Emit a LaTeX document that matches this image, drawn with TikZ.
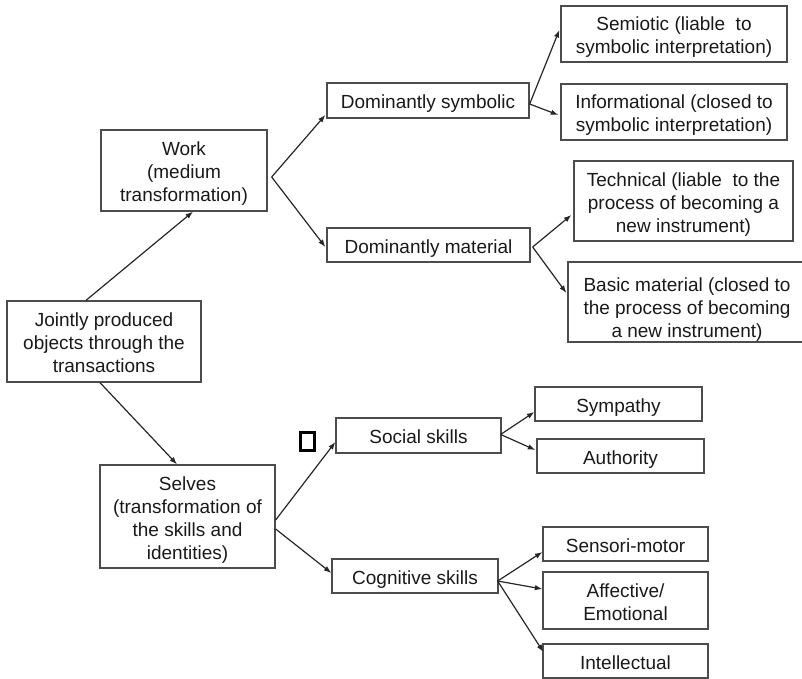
\documentclass[tikz,border=0pt]{standalone}
\usepackage{fontspec}
\setmainfont{Liberation Sans}
\usetikzlibrary{arrows.meta,calc}
\newcommand\boxtxt[2][-3.5pt]{\raisebox{#1}[\height][\depth]{\begin{tabular}{@{}c@{}}#2\end{tabular}}}
\begin{document}
\begin{tikzpicture}[x=1pt,y=-1pt,
  box/.style={draw=black!70,line width=1.3pt,inner sep=0pt,
    font=\fontsize{19}{23}\selectfont,text=black!90},
  conn/.style={draw=black!85,line width=1.2pt,-{Latex[length=7.5pt,width=5.5pt]}}]
\useasboundingbox (0,0) rectangle (802,679);
% nodes
\node[box,minimum width=166pt,minimum height=81pt] (work) at (184,170.5) {\boxtxt{Work\\(medium\\transformation)}};
\node[box,minimum width=194pt,minimum height=81pt] (joint) at (104,341.5) {\boxtxt{Jointly produced\\objects through the\\transactions}};
\node[box,minimum width=202pt,minimum height=35pt] (dsym) at (428,100.5) {\boxtxt{Dominantly symbolic}};
\node[box,minimum width=203pt,minimum height=34pt] (dmat) at (428.5,245) {\boxtxt{Dominantly material}};
\node[box,minimum width=226pt,minimum height=56pt] (semi) at (674,34) {\boxtxt{Semiotic (liable\ \ to\\symbolic interpretation)}};
\node[box,minimum width=226pt,minimum height=56pt] (info) at (674,112) {\boxtxt{Informational (closed to\\symbolic interpretation)}};
\node[box,minimum width=219pt,minimum height=80pt] (tech) at (683.5,201) {\boxtxt{Technical (liable\ \ to the\\process of becoming a\\new instrument)}};
\node[box,minimum width=238pt,minimum height=80pt] (basic) at (687,302) {\boxtxt[-8pt]{Basic material (closed to\\the process of becoming\\a new instrument)}};
\node[box,minimum width=175pt,minimum height=103pt] (selves) at (187.5,516.5) {\boxtxt{Selves\\(transformation of\\the skills and\\identities)}};
\node[box,minimum width=165pt,minimum height=35pt] (social) at (418.5,435.5) {\boxtxt{Social skills}};
\node[box,minimum width=166pt,minimum height=34pt] (cog) at (415,576) {\boxtxt{Cognitive skills}};
\node[box,minimum width=167pt,minimum height=34pt] (symp) at (618.5,404) {\boxtxt{Sympathy}};
\node[box,minimum width=167pt,minimum height=34pt] (auth) at (620.5,456) {\boxtxt{Authority}};
\node[box,minimum width=165pt,minimum height=34pt] (sens) at (625.5,544) {\boxtxt{Sensori-motor}};
\node[box,minimum width=165pt,minimum height=57pt] (aff) at (625.5,600.5) {\boxtxt{Affective/\\Emotional}};
\node[box,minimum width=165pt,minimum height=34pt] (intel) at (625.5,661) {\boxtxt{Intellectual}};
\node[draw=black,line width=2.8pt,minimum width=14.5pt,minimum height=18.5pt,inner sep=0pt] (sq) at (307.5,441.5) {};
% connectors
\draw[conn] ($(joint.north)+(-18,0)$) -- ($(work.south)+(9,0)$);
\draw[conn] ($(joint.south)+(-4,0)$) -- ($(selves.north)+(-10.5,0)$);
\coordinate (wf) at ($(work.east)+(4,6.5)$);
\draw[conn] (wf) -- ($(dsym.west)+(-1,14.5)$);
\draw[conn] (wf) -- ($(dmat.west)+(-1,2)$);
\coordinate (sf) at ($(dsym.east)+(0,3.5)$);
\draw[conn] (sf) -- ($(semi.west)+(-1,-4)$);
\draw[conn] (sf) -- ($(info.west)+(-2,3)$);
\coordinate (mf) at ($(dmat.east)+(2,2)$);
\draw[conn] (mf) -- ($(tech.west)+(-2,14)$);
\draw[conn] (mf) -- ($(basic.west)+(-1,-9)$);
\draw[conn] ($(selves.east)+(0,3.5)$) -- ($(social.west)+(0,6.5)$);
\draw[conn] ($(selves.east)+(0,12.5)$) -- ($(cog.west)+(0,-3)$);
\coordinate (socf) at ($(social.east)+(-1,-1)$);
\draw[conn] (socf) -- ($(symp.west)+(0,8)$);
\draw[conn] (socf) -- ($(auth.west)+(-1,-6)$);
\coordinate (cf) at ($(cog.east)+(-1,5)$);
\draw[conn] (cf) -- ($(sens.west)+(0,8)$);
\draw[conn] (cf) -- ($(aff.west)+(0,-11.5)$);
\draw[conn] (cf) -- ($(intel.west)+(1,-9)$);
\end{tikzpicture}
\end{document}
